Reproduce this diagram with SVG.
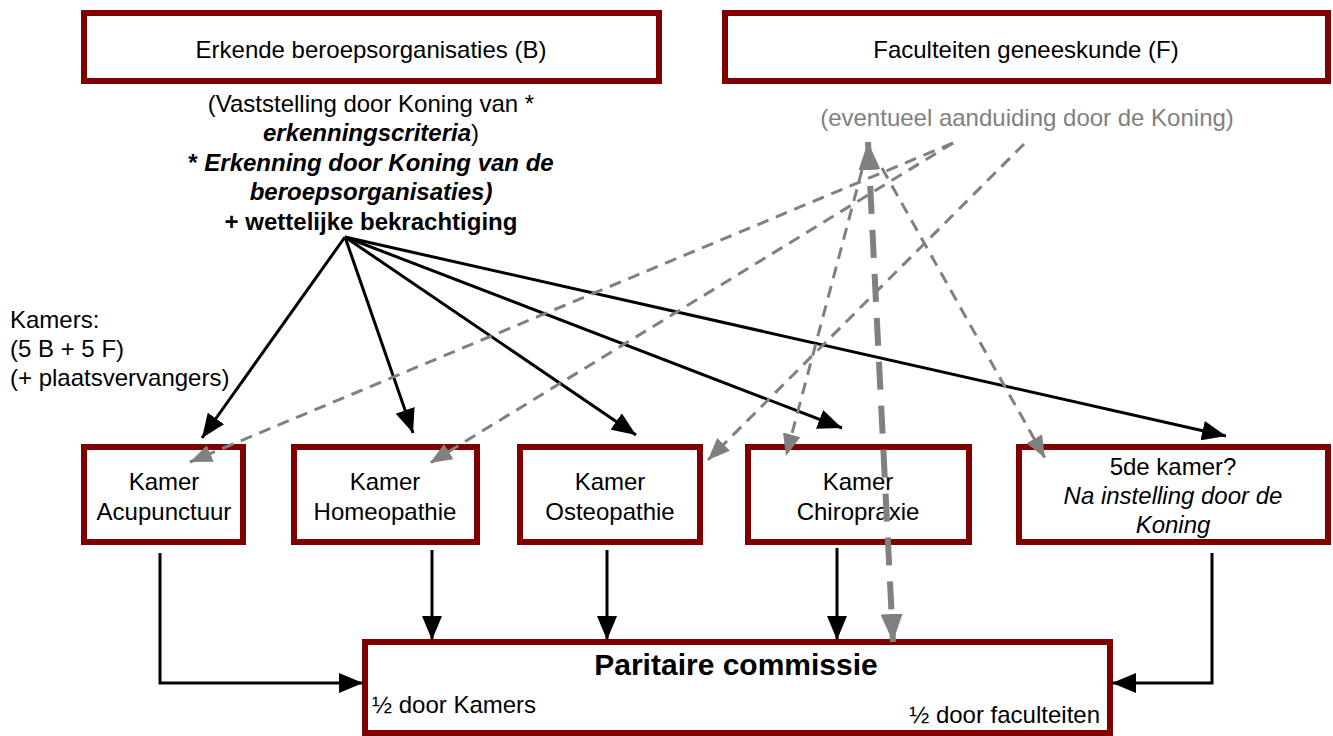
<svg xmlns="http://www.w3.org/2000/svg" width="1333" height="736" viewBox="0 0 1333 736">
<style>
  text { font-family: "Liberation Sans", Arial, sans-serif; font-size: 24px; fill: #000; }
  .c { text-anchor: middle; }
  .grey { fill: #808080; }
  .b { font-weight: bold; }
  .bi { font-weight: bold; font-style: italic; }
  .i { font-style: italic; }
  .box { fill: #fff; stroke: #800000; stroke-width: 6; }
  .blk { stroke: #000; stroke-width: 3; fill: none; }
  .dsh { stroke: #808080; stroke-width: 3; fill: none; stroke-dasharray: 12 8; }
  .thk { stroke: #808080; stroke-width: 6; fill: none; stroke-dasharray: 28 16; }
</style>
<defs>
  <marker id="ab" markerUnits="userSpaceOnUse" markerWidth="24" markerHeight="20" refX="24" refY="10" orient="auto">
    <path d="M0,0 L24,10 L0,20 z" fill="#000"/>
  </marker>
  <marker id="ag" markerUnits="userSpaceOnUse" markerWidth="22" markerHeight="18" refX="22" refY="9" orient="auto">
    <path d="M0,0 L22,9 L0,18 z" fill="#808080"/>
  </marker>
  <marker id="agt" markerUnits="userSpaceOnUse" markerWidth="28" markerHeight="22" refX="28" refY="11" orient="auto">
    <path d="M0,0 L28,11 L0,22 z" fill="#808080"/>
  </marker>
  <marker id="agts" markerUnits="userSpaceOnUse" markerWidth="28" markerHeight="22" refX="0" refY="11" orient="auto">
    <path d="M28,0 L0,11 L28,22 z" fill="#808080"/>
  </marker>
</defs>

<g id="node-beroepsorganisaties">
  <rect class="box" x="84" y="13" width="575" height="68"/>
  <text class="c" x="371" y="58">Erkende beroepsorganisaties (B)</text>
</g>
<g id="node-faculteiten">
  <rect class="box" x="725" y="13" width="603" height="68"/>
  <text class="c" x="1026" y="58">Faculteiten geneeskunde (F)</text>
</g>

<g id="label-erkenning">
  <text class="c" x="371" y="112">(Vaststelling door Koning van *</text>
  <text class="c" x="371" y="141"><tspan class="bi">erkenningscriteria</tspan>)</text>
  <text class="c" x="371" y="171"><tspan class="b">* </tspan><tspan class="bi">Erkenning door Koning van de</tspan></text>
  <text class="c bi" x="371" y="200">beroepsorganisaties)</text>
  <text class="c b" x="371" y="230">+ wettelijke bekrachtiging</text>
</g>
<g id="label-aanduiding">
  <text class="c grey" x="1027" y="126">(eventueel aanduiding door de Koning)</text>
</g>
<g id="label-kamers">
  <text x="10" y="328">Kamers:</text>
  <text x="10" y="357">(5 B + 5 F)</text>
  <text x="10" y="386">(+ plaatsvervangers)</text>
</g>

<g id="node-acupunctuur">
  <rect class="box" x="84" y="447" width="159" height="95"/>
  <text class="c" x="164" y="490">Kamer</text>
  <text class="c" x="164" y="520">Acupunctuur</text>
</g>
<g id="node-homeopathie">
  <rect class="box" x="294" y="447" width="183" height="95"/>
  <text class="c" x="385" y="490">Kamer</text>
  <text class="c" x="385" y="520">Homeopathie</text>
</g>
<g id="node-osteopathie">
  <rect class="box" x="520" y="447" width="180" height="95"/>
  <text class="c" x="610" y="490">Kamer</text>
  <text class="c" x="610" y="520">Osteopathie</text>
</g>
<g id="node-chiropraxie">
  <rect class="box" x="748" y="447" width="221" height="95"/>
  <text class="c" x="858" y="490">Kamer</text>
  <text class="c" x="858" y="520">Chiropraxie</text>
</g>
<g id="node-5de-kamer">
  <rect class="box" x="1019" y="447" width="309" height="95"/>
  <text class="c" x="1173" y="475">5de kamer?</text>
  <text class="c i" x="1173" y="504">Na instelling door de</text>
  <text class="c i" x="1173" y="533">Koning</text>
</g>

<g id="node-paritaire">
  <rect class="box" x="365" y="642" width="745" height="91"/>
  <text class="c b" x="736" y="675" style="font-size:30px">Paritaire commissie</text>
  <text x="372" y="713">½ door Kamers</text>
  <text x="1100" y="723" style="text-anchor:end">½ door faculteiten</text>
</g>

<g id="connectors">
  <line class="blk" x1="345" y1="237" x2="202" y2="438" marker-end="url(#ab)"/>
  <line class="blk" x1="345" y1="237" x2="413" y2="433" marker-end="url(#ab)"/>
  <line class="blk" x1="345" y1="237" x2="636" y2="435" marker-end="url(#ab)"/>
  <line class="blk" x1="345" y1="237" x2="842" y2="428" marker-end="url(#ab)"/>
  <line class="blk" x1="345" y1="237" x2="1226" y2="436" marker-end="url(#ab)"/>

  <polyline class="blk" points="160,553 160,683 363,683" marker-end="url(#ab)"/>
  <line class="blk" x1="432" y1="550" x2="432" y2="640" marker-end="url(#ab)"/>
  <line class="blk" x1="607" y1="550" x2="607" y2="640" marker-end="url(#ab)"/>
  <line class="blk" x1="837" y1="548" x2="837" y2="640" marker-end="url(#ab)"/>
  <polyline class="blk" points="1212,553 1212,683 1112,683" marker-end="url(#ab)"/>

  <line class="dsh" x1="953" y1="143" x2="190" y2="462" marker-end="url(#ag)"/>
  <line class="dsh" x1="953" y1="143" x2="430" y2="463" marker-end="url(#ag)"/>
  <line class="dsh" x1="1024" y1="144" x2="708" y2="460" marker-end="url(#ag)"/>
  <line class="dsh" x1="862" y1="170" x2="786" y2="456" marker-end="url(#ag)"/>
  <line class="dsh" x1="882" y1="168" x2="1045" y2="458" marker-end="url(#ag)"/>

  <line class="thk" x1="868" y1="142" x2="893" y2="642" marker-start="url(#agts)" marker-end="url(#agt)"/>
</g>
</svg>
